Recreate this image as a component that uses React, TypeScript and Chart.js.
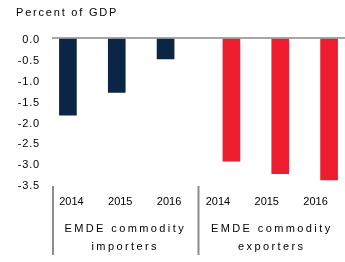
import React, { useEffect, useRef } from 'react';
import { Chart, registerables } from 'chart.js';

Chart.register(...registerables);

const years = ['2014', '2015', '2016'];
const groupLabels = [['EMDE commodity', 'importers'], ['EMDE commodity', 'exporters']];
const importers = [-1.85, -1.3, -0.5];
const exporters = [-2.95, -3.25, -3.4];
const yMin = -3.5;
const yMax = 0;
const yStep = 0.5;
const titleText = 'Percent of GDP';

const importerColor = '#0b2545';
const exporterColor = '#ed1c2e';

export default function App() {
  const ref = useRef<HTMLCanvasElement>(null);

  useEffect(() => {
    if (!ref.current) return;
    const labels = [...years, ...years];
    const impData = [...importers, ...exporters.map(() => null)];
    const expData = [...importers.map(() => null), ...exporters];
    const family = "'Liberation Sans', Arial, sans-serif";
    const font = { family, size: 11, weight: 'normal' as const };

    const separators = {
      id: 'separators',
      afterDraw(chart: any) {
        const { ctx, chartArea } = chart;
        const x = chart.scales.x;
        const n = importers.length;
        const left = chartArea.left + 1;
        const mid = (x.getPixelForValue(n - 1) + x.getPixelForValue(n)) / 2;
        ctx.save();
        ctx.strokeStyle = '#8c8c8c';
        ctx.lineWidth = 2;
        ctx.beginPath();
        [left, mid].forEach((px) => {
          ctx.moveTo(px, chartArea.bottom + 2);
          ctx.lineTo(px, chartArea.bottom + 71);
        });
        ctx.stroke();
        ctx.restore();
      },
    };

    const spacing = {
      id: 'spacing',
      beforeDraw(chart: any) {
        const patch = (obj: any, method: string, sp: string) => {
          if (!obj || obj['__p_' + method]) return;
          const orig = obj[method];
          obj[method] = function (...args: any[]) {
            const ctx = chart.ctx;
            const prev = ctx.letterSpacing;
            ctx.letterSpacing = sp;
            const r = orig.apply(this, args);
            ctx.letterSpacing = prev;
            return r;
          };
          obj['__p_' + method] = true;
        };
        patch(chart.titleBlock, 'draw', '1.8px');
        patch(chart.scales.x2, 'drawLabels', '2.4px');
        patch(chart.scales.y, 'drawLabels', '0.8px');
      },
    };

    const chart = new Chart(ref.current, {
      type: 'bar',
      data: {
        labels,
        datasets: [
          { label: 'importers', data: impData, backgroundColor: importerColor, barThickness: 17, skipNull: false } as any,
          { label: 'exporters', data: expData, backgroundColor: exporterColor, barThickness: 17, skipNull: false } as any,
        ],
      },
      options: {
        animation: false,
        responsive: false,
        devicePixelRatio: 1,
        layout: { padding: { left: 16, right: 0, top: 0, bottom: 6 } },
        plugins: {
          legend: { display: false },
          tooltip: { enabled: false },
          title: {
            display: true,
            text: titleText,
            align: 'start',
            color: '#000',
            font,
            padding: { top: 6, bottom: 19 },
          },
        },
        scales: {
          x: {
            type: 'category',
            position: 'bottom',
            grid: { display: false, drawTicks: false },
            border: { display: false },
            ticks: { color: '#000', font, padding: 11, labelOffset: -5, maxRotation: 0, autoSkip: false },
            afterFit: (s: any) => {
              s.height = 24;
            },
          },
          x2: {
            type: 'category',
            position: 'bottom',
            labels: groupLabels as any,
            offset: true,
            grid: { display: false, drawTicks: false },
            border: { display: false },
            ticks: { color: '#000', font: { ...font, lineHeight: 18 / 11 }, padding: 12, maxRotation: 0, autoSkip: false },
            afterFit: (s: any) => {
              s.height = 48;
            },
          },
          y: {
            min: yMin,
            max: yMax,
            grid: {
              color: (c: any) => (c.tick && c.tick.value === 0 ? '#a6a6a6' : 'rgba(0,0,0,0)'),
              lineWidth: 2,
              drawTicks: false,
            },
            border: { display: false },
            ticks: {
              stepSize: yStep,
              autoSkip: false,
              color: '#000',
              font,
              padding: 12,
              labelOffset: 2,
              callback: (v: any) => Number(v).toFixed(1),
            },
            afterFit: (s: any) => {
              s.width = 36;
            },
          },
        },
      } as any,
      plugins: [spacing, separators],
    });
    return () => chart.destroy();
  }, []);

  return (
    <div style={{ position: 'absolute', left: 0, top: 0, width: 345, height: 262 }}>
      <canvas ref={ref} width={345} height={262} style={{ width: 345, height: 262 }} />
    </div>
  );
}
